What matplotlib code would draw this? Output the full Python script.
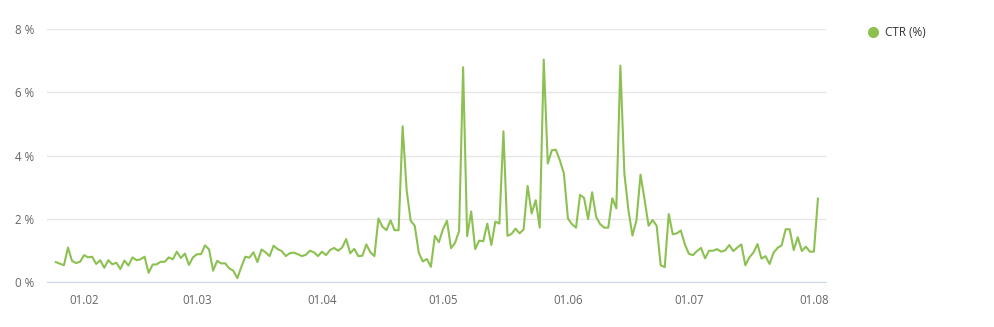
import matplotlib.pyplot as plt
import matplotlib.dates as mdates
from matplotlib.lines import Line2D
import numpy as np
import pandas as pd

# Daily CTR values, 25.01 - 02.08
start_date = "2023-01-25"
ctr = [
    0.63, 0.58, 0.53, 1.09, 0.67, 0.60, 0.64, 0.85, 0.78, 0.80,
    0.57, 0.69, 0.45, 0.69, 0.56, 0.61, 0.41, 0.68, 0.52, 0.78,
    0.69, 0.72, 0.80, 0.29, 0.55, 0.56, 0.64, 0.64, 0.78, 0.72,
    0.96, 0.76, 0.90, 0.54, 0.78, 0.88, 0.88, 1.16, 1.03,
    0.36, 0.67, 0.59, 0.59, 0.43, 0.36, 0.12, 0.48, 0.80, 0.77,
    0.94, 0.63, 1.03, 0.94, 0.82, 1.15, 1.04, 0.98, 0.82, 0.91,
    0.93, 0.88, 0.82, 0.86, 0.99, 0.94, 0.82, 0.96, 0.85, 1.01,
    1.08, 0.99, 1.09, 1.36, 0.91, 1.05, 0.82, 0.83,
    1.19, 0.94, 0.82, 2.01, 1.75, 1.64, 1.95, 1.64, 1.64, 4.93,
    2.90, 1.94, 1.78, 0.93, 0.65, 0.73, 0.48, 1.46, 1.26, 1.67,
    1.94, 1.07, 1.24, 1.61, 6.80, 1.45, 2.23, 1.04, 1.31, 1.29,
    1.85, 1.17, 1.91, 1.85, 4.77, 1.46, 1.52, 1.69, 1.54,
    1.66, 3.04, 2.17, 2.59, 1.72, 7.04, 3.75, 4.17, 4.19, 3.85,
    3.43, 2.01, 1.83, 1.72, 2.76, 2.66, 1.99, 2.84, 2.06, 1.83,
    1.72, 1.72, 2.65, 2.33, 6.85, 3.43, 2.27, 1.47, 1.96, 3.40,
    2.61, 1.78, 1.96, 1.78, 0.53, 0.47, 2.15,
    1.51, 1.54, 1.63, 1.19, 0.89, 0.85, 0.98, 1.08, 0.75, 0.99,
    0.99, 1.04, 0.96, 1.00, 1.17, 0.98, 1.09, 1.19, 0.53, 0.78,
    0.93, 1.20, 0.74, 0.82, 0.57, 0.93, 1.08, 1.16, 1.67, 1.67,
    1.01, 1.42, 0.98, 1.12, 0.96, 0.96, 2.64,
]
dates = pd.date_range(start_date, periods=len(ctr), freq="D")

tick_dates = pd.to_datetime(["2023-02-01", "2023-03-01", "2023-04-01", "2023-05-01",
                             "2023-06-01", "2023-07-01", "2023-08-01"])
y_ticks = [0, 2, 4, 6, 8]

green = "#8cc152"
plt.rcParams["font.family"] = ["Open Sans", "DejaVu Sans"]

fig = plt.figure(figsize=(9.95, 3.27), dpi=100)
ax = fig.add_axes([47 / 995, 45 / 327, (826 - 47) / 995, (282 - 29.3) / 327])

ax.plot(dates, ctr, color=green, linewidth=1.5, label="CTR (%)")

ax.set_ylim(0, 8)
ax.set_xlim(dates[0] - pd.Timedelta(days=2.2), dates[0] + pd.Timedelta(days=191))
ax.set_yticks(y_ticks)
ax.set_yticklabels([f"{v} %" for v in y_ticks])
ax.set_xticks(tick_dates)
ax.xaxis.set_major_formatter(mdates.DateFormatter("%d.%m"))

ax.grid(axis="y", color="#e6e6e6", linewidth=1)
ax.set_axisbelow(True)
for side in ["top", "right", "left"]:
    ax.spines[side].set_visible(False)
ax.spines["bottom"].set_color("#ccd6eb")
ax.tick_params(axis="both", length=0, labelsize=8.3, colors="#666666")
ax.tick_params(axis="y", pad=9)
ax.tick_params(axis="x", pad=9)

handle = Line2D([], [], marker="o", linestyle="", color=green, markersize=7)
fig.legend([handle], ["CTR (%)"], loc="center left",
           bbox_to_anchor=(855 / 995, 1 - 32.5 / 327), frameon=False,
           handletextpad=0.4, fontsize=8.5, labelcolor="#333333", handlelength=1.2)

fig.savefig("out.png", dpi=100)
